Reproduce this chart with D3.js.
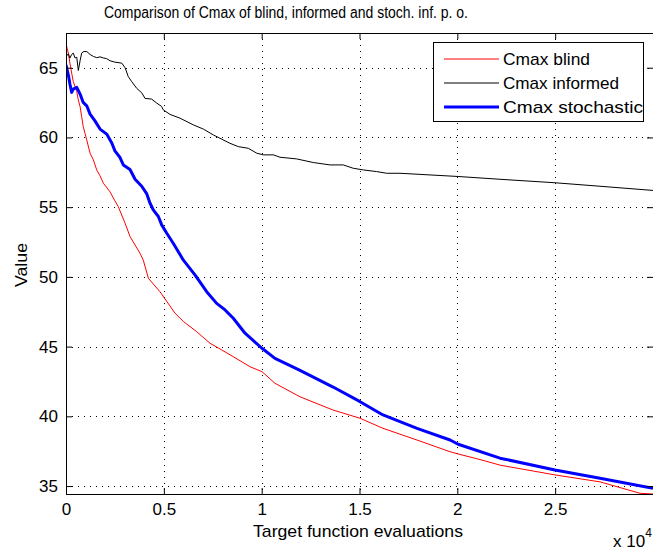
<!DOCTYPE html>
<html>
<head>
<meta charset="utf-8">
<script src="https://cdn.jsdelivr.net/npm/d3@7"></script>
<style>
  body { margin: 0; background: #fff; }
  text { font-family: "Liberation Sans", Arial, sans-serif; fill: #000; }
</style>
</head>
<body>
<svg id="chart" width="653" height="553"></svg>
<script>
// evaluations (x) and Cmax values
const blindX = [0, 120, 200, 290, 370, 460, 550, 630, 720, 800, 880, 970, 1060, 1230, 1400, 1570, 1740, 1910, 2250, 2500, 2670, 3020, 3270, 3780, 3950, 4210, 4800, 5570, 6000, 6680, 7360, 7960, 8640, 9400, 10020, 10680, 11960, 13650, 15030, 16200, 17940, 19630, 20040, 21160, 22180, 24990, 27290, 29340, 30000];
const blindY = [66.7, 66.05, 65.33, 64.61, 64.01, 63.65, 63.29, 62.69, 62.21, 61.5, 60.78, 60.3, 59.82, 58.87, 58.39, 57.67, 57.25, 56.72, 56.1, 55.45, 55.04, 53.85, 52.9, 51.7, 51.2, 49.9, 48.94, 47.4, 46.8, 46.07, 45.24, 44.76, 44.2, 43.56, 43.2, 42.37, 41.4, 40.45, 39.86, 39.14, 38.3, 37.46, 37.3, 36.9, 36.5, 35.8, 35.3, 34.48, 34.43];

const informedX = [0, 120, 200, 290, 370, 460, 550, 630, 720, 800, 920, 1070, 1230, 1400, 1570, 1740, 1910, 2080, 2250, 2500, 2850, 3020, 3180, 3360, 3610, 3870, 4040, 4380, 4640, 4890, 4970, 5320, 5830, 6510, 7020, 7530, 7870, 8380, 8810, 9320, 9750, 10080, 10600, 10940, 11790, 12640, 13490, 14170, 14680, 15200, 15880, 16390, 17070, 20040, 22180, 24990, 27290, 30000];
const informedY = [65.8, 66.0, 65.69, 65.95, 66.05, 65.7, 65.75, 64.8, 65.5, 66.05, 66.17, 66.15, 65.95, 65.81, 65.72, 65.78, 65.7, 65.65, 65.5, 65.4, 65.33, 65.0, 64.37, 64.0, 63.53, 63.2, 62.8, 62.75, 62.46, 62.22, 61.98, 61.65, 61.38, 60.9, 60.6, 60.18, 59.94, 59.58, 59.34, 59.22, 58.87, 58.75, 58.75, 58.58, 58.46, 58.2, 58.03, 58.03, 57.79, 57.67, 57.55, 57.43, 57.43, 57.2, 57.0, 56.75, 56.5, 56.2];

const stochX = [0, 120, 200, 290, 370, 550, 720, 880, 1060, 1230, 1480, 1740, 2080, 2340, 2500, 2760, 2930, 3270, 3530, 3870, 4130, 4290, 4460, 4720, 4890, 5150, 5480, 6000, 6590, 7190, 7700, 8130, 8550, 9150, 10000, 10680, 11960, 13650, 15030, 16200, 17940, 19630, 20040, 22180, 24990, 27290, 30000];
const stochY = [65.2, 64.47, 63.83, 63.23, 63.47, 63.59, 63.11, 62.51, 62.27, 61.67, 61.19, 60.6, 60.24, 59.6, 59.04, 58.56, 58.03, 57.7, 57.0, 56.5, 55.95, 55.3, 54.8, 54.33, 53.73, 53.13, 52.41, 51.2, 50.14, 48.94, 48.1, 47.63, 47.03, 45.96, 44.9, 44.16, 43.3, 42.1, 41.05, 40.1, 39.14, 38.3, 38.0, 37.0, 36.15, 35.56, 34.84];

const xTicks = [0, 5000, 10000, 15000, 20000, 25000];
const yTicks = [35, 40, 45, 50, 55, 60, 65];
const seriesNames = ["Cmax blind", "Cmax informed", "Cmax stochastic"];
const seriesColors = ["#ff0000", "#000000", "#0000ff"];
const seriesWidths = [1, 1, 3];

const svg = d3.select("#chart");
const margins = { top: 33, right: 0, bottom: 59, left: 66 };
const width = 653, height = 553;
const yMin = 34.43, yMax = 67.49;

const x = d3.scaleLinear().domain([0, 30000]).range([margins.left, width - margins.right]);
const y = d3.scaleLinear().domain([yMin, yMax]).range([height - margins.bottom, margins.top]);

svg.append("rect").attr("width", width).attr("height", height).attr("fill", "#fff");

svg.append("defs").append("clipPath").attr("id", "plotclip")
    .append("rect")
    .attr("x", x(0)).attr("y", y(yMax))
    .attr("width", x(30000) - x(0)).attr("height", y(yMin) - y(yMax));

// dotted grid
const grid = svg.append("g").attr("stroke", "#000").attr("stroke-width", 1).attr("stroke-dasharray", "1,5");
grid.selectAll(".vg").data(xTicks.slice(1)).join("line")
    .attr("x1", d => Math.round(x(d)) + 0.5).attr("x2", d => Math.round(x(d)) + 0.5)
    .attr("y1", y(yMax)).attr("y2", y(yMin));
grid.selectAll(".hg").data(yTicks).join("line")
    .attr("y1", d => Math.round(y(d)) + 0.5).attr("y2", d => Math.round(y(d)) + 0.5)
    .attr("x1", x(0)).attr("x2", x(30000));

// series
const series = [
    { xs: blindX, ys: blindY },
    { xs: informedX, ys: informedY },
    { xs: stochX, ys: stochY }
];
const line = d3.line().x(d => x(d[0])).y(d => y(d[1]));
const plot = svg.append("g").attr("clip-path", "url(#plotclip)");
series.forEach((s, i) => {
    plot.append("path")
        .datum(s.xs.map((v, j) => [v, s.ys[j]]))
        .attr("fill", "none")
        .attr("stroke", seriesColors[i])
        .attr("stroke-width", seriesWidths[i])
        .attr("stroke-linejoin", "round")
        .attr("d", line);
});

// axes, ticks inward on all four sides
const tickLen = 6;
const xAxis = d3.axisBottom(x).tickValues(xTicks).tickSize(-tickLen).tickPadding(9).tickFormat(d => d / 10000);
const yAxis = d3.axisLeft(y).tickValues(yTicks).tickSize(-tickLen).tickPadding(8);
const gx = svg.append("g").attr("transform", `translate(0,${y(yMin)})`).call(xAxis);
const gy = svg.append("g").attr("transform", `translate(${x(0)},0)`).call(yAxis);
svg.append("g").attr("transform", `translate(0,${y(yMax)})`)
    .call(d3.axisTop(x).tickValues(xTicks).tickSize(-tickLen).tickFormat(""));
svg.append("g").attr("transform", `translate(${x(30000)},0)`)
    .call(d3.axisRight(y).tickValues(yTicks).tickSize(-tickLen).tickFormat(""));
svg.selectAll(".domain").attr("stroke", "#000");
svg.selectAll(".tick line").attr("stroke", "#000");
[gx, gy].forEach(g => g.selectAll("text")
    .style("font-family", '"Liberation Sans", Arial, sans-serif')
    .style("font-size", "17px"));

// title and labels
svg.append("text").attr("x", 104).attr("y", 18)
    .attr("textLength", 364).attr("lengthAdjust", "spacingAndGlyphs")
    .style("font-size", "16px").text("Comparison of Cmax of blind, informed and stoch. inf. p. o.");
svg.append("text").attr("x", 253).attr("y", 537)
    .attr("textLength", 210).attr("lengthAdjust", "spacingAndGlyphs")
    .style("font-size", "17px").text("Target function evaluations");
svg.append("text").attr("transform", "translate(27,287) rotate(-90)")
    .attr("textLength", 44).attr("lengthAdjust", "spacingAndGlyphs")
    .style("font-size", "17px").text("Value");
const expo = svg.append("text").attr("x", 613).attr("y", 547).style("font-size", "17px");
expo.append("tspan").text("x 10");
expo.append("tspan").attr("dy", -10).style("font-size", "12px").text("4");

// legend
const legendWidths = [87, 116, 140];
const legend = svg.append("g");
legend.append("rect").attr("x", 433.5).attr("y", 42.5).attr("width", 210).attr("height", 79)
    .attr("fill", "#fff").attr("stroke", "#000");
seriesNames.forEach((name, i) => {
    const ly = 59 + i * 24;
    legend.append("line").attr("x1", 444).attr("x2", 499).attr("y1", ly).attr("y2", ly)
        .attr("stroke", seriesColors[i]).attr("stroke-width", seriesWidths[i] === 3 ? 3 : 1);
    legend.append("text").attr("x", 503).attr("y", ly + 6)
        .attr("textLength", legendWidths[i]).attr("lengthAdjust", "spacingAndGlyphs")
        .style("font-size", "17px").text(name);
});
</script>
</body>
</html>
